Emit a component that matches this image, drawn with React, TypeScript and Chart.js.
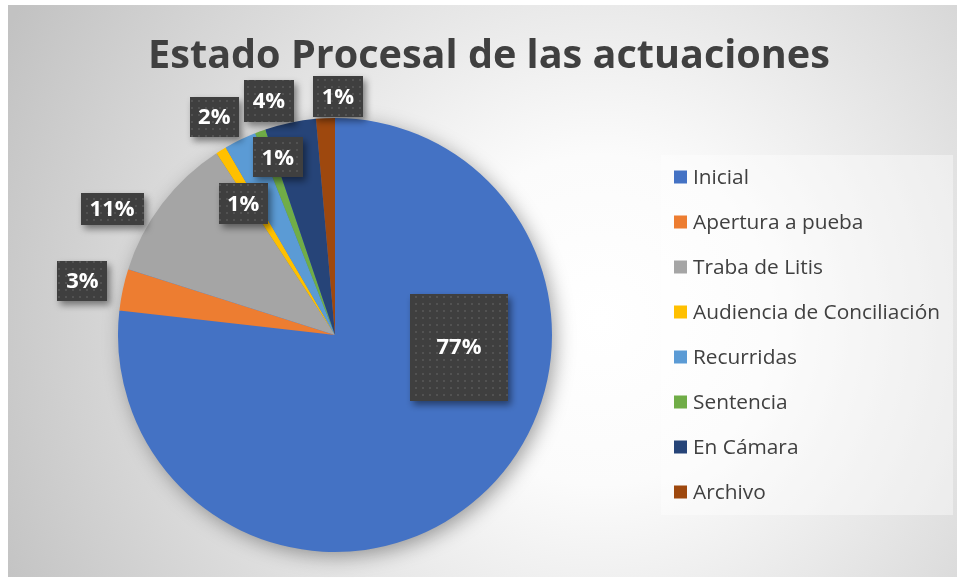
import React, { useEffect, useRef } from "react";
import { Chart, registerables } from "chart.js";

Chart.register(...registerables);

const TITLE = "Estado Procesal de las actuaciones";
const CATEGORIES = [
  "Inicial",
  "Apertura a pueba",
  "Traba de Litis",
  "Audiencia de Conciliación",
  "Recurridas",
  "Sentencia",
  "En Cámara",
  "Archivo",
];
const SHARES = [76.8, 3.1, 10.9, 0.8, 2.4, 0.8, 3.8, 1.4];
const COLORS = ["#4472C4", "#ED7D31", "#A5A5A5", "#FFC000", "#5B9BD5", "#70AD47", "#264478", "#9E480E"];

// label placement relative to each slice: radial factor & angular shift (deg) from mid-angle
const LABEL_RADIUS = [0.574, 1.19, 1.18, 0.74, 1.15, 0.86, 1.12, 1.1];
const LABEL_SHIFT = [-42.7, 0, -7.8, -3.2, -3.0, 2.3, -3.9, 3.2];
const LABEL_BOX = [[98, 107], [50, 40], [63, 32], [49, 41], [49, 40], [50, 40], [50, 42], [50, 41]];

const FONT = '"Open Sans", "Noto Sans", sans-serif';
const TEXT_COLOR = "#404040";

function makePattern(ctx: CanvasRenderingContext2D) {
  const c = document.createElement("canvas");
  c.width = 7;
  c.height = 7;
  const g = c.getContext("2d")!;
  g.fillStyle = "#3f3f3f";
  g.fillRect(0, 0, 7, 7);
  g.fillStyle = "#525252";
  g.fillRect(2, 2, 2, 2);
  return ctx.createPattern(c, "repeat");
}

const decorPlugin = {
  id: "decor",
  beforeDraw(chart: any) {
    const ctx: CanvasRenderingContext2D = chart.ctx;
    const W = chart.width;
    const H = chart.height;
    ctx.save();
    ctx.fillStyle = "#ffffff";
    ctx.fillRect(0, 0, W, H);
    const grad = ctx.createRadialGradient(600, 320, 0, 600, 320, 660);
    grad.addColorStop(0, "#ffffff");
    grad.addColorStop(0.25, "#fbfbfb");
    grad.addColorStop(1, "#c2c2c2");
    ctx.fillStyle = grad;
    ctx.fillRect(8, 5, W - 10, H - 7);
    ctx.restore();
  },
  beforeDatasetsDraw(chart: any) {
    const ctx: CanvasRenderingContext2D = chart.ctx;
    const arc = chart.getDatasetMeta(0).data[0];
    if (!arc) return;
    ctx.save();
    ctx.shadowColor = "rgba(0,0,0,0.38)";
    ctx.shadowBlur = 20;
    ctx.shadowOffsetX = 4;
    ctx.shadowOffsetY = 5;
    ctx.fillStyle = "#4472C4";
    ctx.beginPath();
    ctx.arc(arc.x, arc.y, arc.outerRadius - 1, 0, Math.PI * 2);
    ctx.fill();
    ctx.restore();
  },
  afterDatasetsDraw(chart: any) {
    const ctx: CanvasRenderingContext2D = chart.ctx;
    const meta = chart.getDatasetMeta(0);
    const values: number[] = chart.data.datasets[0].data;
    const total = values.reduce((a, b) => a + b, 0);
    const pattern = makePattern(ctx);
    meta.data.forEach((arc: any, i: number) => {
      const mid = (arc.startAngle + arc.endAngle) / 2 + (LABEL_SHIFT[i] * Math.PI) / 180;
      const r = arc.outerRadius * LABEL_RADIUS[i];
      const cx = arc.x + Math.cos(mid) * r;
      const cy = arc.y + Math.sin(mid) * r;
      const [bw, bh] = LABEL_BOX[i];
      ctx.save();
      ctx.shadowColor = "rgba(0,0,0,0.45)";
      ctx.shadowBlur = 7;
      ctx.shadowOffsetX = 3;
      ctx.shadowOffsetY = 4;
      ctx.fillStyle = pattern || "#404040";
      ctx.fillRect(Math.round(cx - bw / 2), Math.round(cy - bh / 2), bw, bh);
      ctx.restore();
      ctx.save();
      ctx.fillStyle = "#ffffff";
      ctx.font = `bold 22px ${FONT}`;
      ctx.textAlign = "center";
      ctx.textBaseline = "middle";
      const pct = Math.round((values[i] / total) * 100) + "%";
      ctx.fillText(pct, cx, cy + 1);
      ctx.restore();
    });
  },
  afterDraw(chart: any) {
    const ctx: CanvasRenderingContext2D = chart.ctx;
    ctx.save();
    // title
    ctx.font = `bold 34px ${FONT}`;
    const tw = ctx.measureText(TITLE).width;
    const ts = (34 * 682) / tw;
    ctx.font = `bold ${ts.toFixed(2)}px ${FONT}`;
    ctx.fillStyle = TEXT_COLOR;
    ctx.textAlign = "center";
    ctx.textBaseline = "alphabetic";
    ctx.fillText(TITLE, 489, 68);

    // legend panel
    ctx.fillStyle = "rgba(255,255,255,0.4)";
    ctx.fillRect(661, 155, 292, 360);

    const labels: string[] = chart.data.labels;
    const colors: string[] = chart.data.datasets[0].backgroundColor;
    ctx.font = `18px ${FONT}`;
    const longest = Math.max(...labels.map((l) => ctx.measureText(l).width));
    const ls = (18 * 247) / longest;
    ctx.font = `${ls.toFixed(2)}px ${FONT}`;
    ctx.textAlign = "left";
    ctx.textBaseline = "middle";
    labels.forEach((l, i) => {
      const y = 177 + i * 45;
      ctx.fillStyle = colors[i];
      ctx.fillRect(674, y - 6.5, 13, 13);
      ctx.fillStyle = TEXT_COLOR;
      ctx.fillText(l, 693, y + 1);
    });
    ctx.restore();
  },
};

export default function App() {
  const ref = useRef<HTMLCanvasElement | null>(null);
  useEffect(() => {
    let chart: Chart | null = null;
    let cancelled = false;
    const build = () => {
      if (cancelled || !ref.current) return;
      chart = new Chart(ref.current, {
        type: "pie",
        data: {
          labels: CATEGORIES,
          datasets: [
            {
              data: SHARES,
              backgroundColor: COLORS,
              borderWidth: 0,
            },
          ],
        },
        options: {
          responsive: false,
          animation: false,
          devicePixelRatio: 1,
          layout: { padding: { left: 118, right: 407, top: 118, bottom: 27 } },
          plugins: {
            legend: { display: false },
            title: { display: false },
            tooltip: { enabled: false },
          },
        },
        plugins: [decorPlugin],
      });
    };
    const fontsApi = (document as any).fonts;
    if (fontsApi && fontsApi.load) {
      Promise.all([
        fontsApi.load('bold 22px "Open Sans"'),
        fontsApi.load('18px "Open Sans"'),
      ])
        .catch(() => null)
        .then(build);
    } else {
      build();
    }
    return () => {
      cancelled = true;
      if (chart) chart.destroy();
    };
  }, []);
  return (
    <div style={{ position: "absolute", left: 0, top: 0, width: 959, height: 579 }}>
      <canvas ref={ref} width={959} height={579} style={{ display: "block" }} />
    </div>
  );
}
